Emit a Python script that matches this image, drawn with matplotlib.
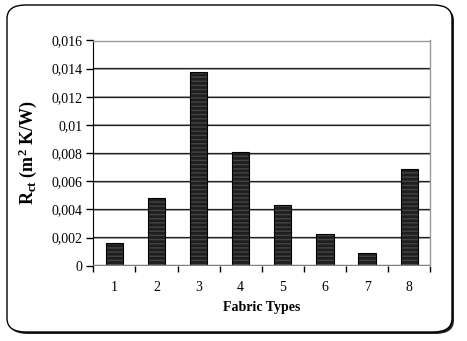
import matplotlib
matplotlib.use("Agg")
import matplotlib.pyplot as plt
from matplotlib.patches import FancyBboxPatch
from matplotlib.ticker import FixedLocator, NullFormatter

categories = ["1", "2", "3", "4", "5", "6", "7", "8"]
values = [0.0016, 0.0048, 0.01375, 0.0081, 0.0043, 0.00225, 0.0009, 0.00685]
yticks = [0, 0.002, 0.004, 0.006, 0.008, 0.01, 0.012, 0.014, 0.016]
ytick_labels = ["0", "0,002", "0,004", "0,006", "0,008", "0,01", "0,012", "0,014", "0,016"]

plt.rcParams['font.family'] = ['Liberation Serif', 'DejaVu Serif']
plt.rcParams['mathtext.fontset'] = 'custom'
plt.rcParams['mathtext.rm'] = 'Liberation Serif'
plt.rcParams['mathtext.bf'] = 'Liberation Serif:bold'
plt.rcParams['mathtext.it'] = 'Liberation Serif:italic'
plt.rcParams['hatch.linewidth'] = 1.0

W, H = 467, 341
fig = plt.figure(figsize=(W / 100, H / 100), dpi=100)

# rounded frame with shadow
shadow = FancyBboxPatch((9 / W, 1 - 334 / H), 445 / W, 327 / H,
                        boxstyle="round,pad=0,rounding_size=0.04",
                        transform=fig.transFigure, facecolor="#222222",
                        edgecolor="none", zorder=0)
frame = FancyBboxPatch((7 / W, 1 - 332 / H), 445 / W, 327 / H,
                       boxstyle="round,pad=0,rounding_size=0.04",
                       transform=fig.transFigure, facecolor="white",
                       edgecolor="black", linewidth=1.0, zorder=1)
fig.patches.extend([shadow, frame])

ax = fig.add_axes([93.3 / W, 1 - 265.7 / H, (430.3 - 93.3) / W, (265.7 - 40.5) / H])
ax.set_zorder(2)
ax.patch.set_alpha(0)

x = list(range(1, len(categories) + 1))
ax.bar(x, values, width=0.41, color="#1e1e1e", edgecolor="#444444",
       hatch="----", linewidth=0, zorder=3)
ax.bar(x, values, width=0.41, color="none", edgecolor="black",
       linewidth=0.8, zorder=4)

ax.set_xlim(0.5, 8.5)
ax.set_ylim(0, 0.016)

for yv in yticks[1:]:
    ax.axhline(yv - 0.00003, color="#999999", linewidth=1.2, zorder=1)
    ax.axhline(yv + 0.00002, color="#222222", linewidth=0.9, zorder=1)
ax.axhline(0, color="#808080", linewidth=2.5, zorder=5)

ax.set_yticks(yticks)
ax.set_yticklabels(ytick_labels, fontsize=10)
ax.tick_params(axis='y', direction='out', length=5, width=1, pad=3)

ax.xaxis.set_major_locator(FixedLocator([i + 0.5 for i in range(0, 9)]))
ax.xaxis.set_major_formatter(NullFormatter())
ax.xaxis.set_minor_locator(FixedLocator(x))
ax.set_xticklabels(categories, minor=True, fontsize=10)
ax.tick_params(axis='x', which='major', direction='out', length=4, width=1)
ax.tick_params(axis='x', which='minor', length=0, pad=11)

for s in ["top", "right"]:
    ax.spines[s].set_color("#9a9a9a")
    ax.spines[s].set_linewidth(1)
ax.spines["left"].set_color("black")
ax.spines["bottom"].set_visible(False)

ax.set_xlabel("Fabric Types", fontsize=10, fontweight="bold", labelpad=5)
ax.set_ylabel(r"R$_{\mathbf{ct}}$ (m$^{\mathbf{2}}$ K/W)", fontsize=13, fontweight="bold", labelpad=9)

fig.savefig("out.png", dpi=100)
